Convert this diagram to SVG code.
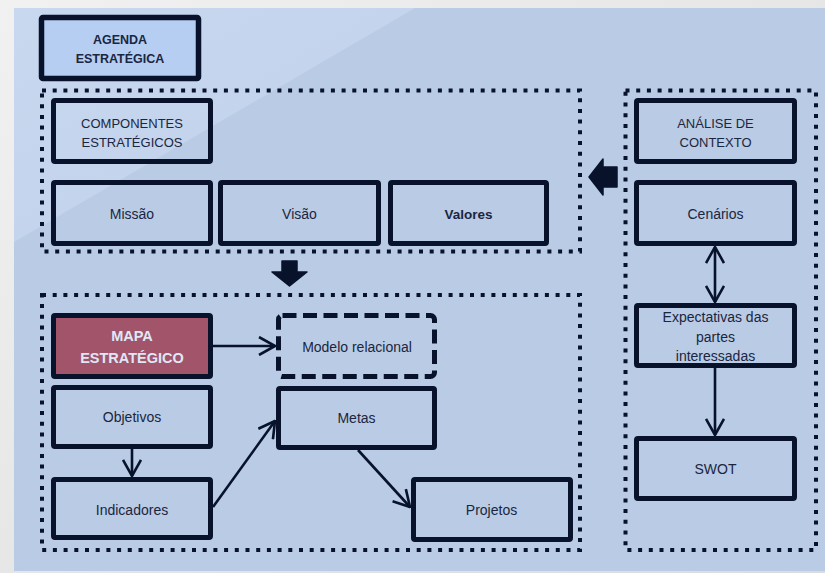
<svg xmlns="http://www.w3.org/2000/svg" width="825" height="573" viewBox="0 0 825 573">
  <defs>
    <linearGradient id="pageBg" x1="0" y1="0" x2="1" y2="1">
      <stop offset="0" stop-color="#f1f1f1"/>
      <stop offset="1" stop-color="#dcdcdc"/>
    </linearGradient>
    <linearGradient id="sheen" x1="0" y1="0" x2="1" y2="1">
      <stop offset="0" stop-color="#c8d8ef"/>
      <stop offset="1" stop-color="#bfd0ea"/>
    </linearGradient>
    <marker id="chevron" viewBox="0 0 18 20" refX="17" refY="10" markerWidth="18" markerHeight="20" markerUnits="userSpaceOnUse" orient="auto-start-reverse">
      <path d="M1,1 L17,10 L1,19" fill="none" stroke="#08132b" stroke-width="2.6" stroke-linejoin="miter"/>
    </marker>
    <style>
      .box { fill: none; stroke: #08132b; stroke-width: 5; }
      .dashed { fill: none; stroke: #08132b; stroke-width: 5; stroke-dasharray: 14 6.5; }
      .area { fill: none; stroke: #08132b; stroke-width: 4; stroke-dasharray: 4 6.7; }
      .txt { font-family: "Liberation Sans", Arial, sans-serif; font-size: 14px; fill: #1b2640; text-anchor: middle; }
      .caps { font-size: 13px; }
      .bold { font-weight: bold; }
      .conn { fill: none; stroke: #08132b; stroke-width: 2.6; marker-end: url(#chevron); }
      .block { fill: #08132b; stroke: #08132b; stroke-width: 1.5; stroke-linejoin: round; }
    </style>
  </defs>

  <!-- page and panel -->
  <rect x="0" y="0" width="825" height="573" fill="url(#pageBg)"/>
  <rect x="14" y="8" width="811" height="563" fill="#b9cbe5"/>
  <polygon points="14,8 415,8 14,242" fill="url(#sheen)"/>

  <!-- title -->
  <g id="agenda">
    <rect x="41.5" y="17.5" width="157" height="61" rx="1.5" fill="#b5cef2" stroke="#08132b" stroke-width="5.5"/>
    <text class="txt bold" x="120" y="43.5" style="font-size:12.5px">AGENDA</text>
    <text class="txt bold" x="120" y="62.5" style="font-size:12.5px">ESTRATÉGICA</text>
  </g>

  <!-- grouping areas -->
  <g id="areas">
    <rect id="area-componentes" class="area" x="42" y="90.5" width="538" height="161"/>
    <rect id="area-mapa" class="area" x="42" y="295" width="538" height="255"/>
    <rect id="area-contexto" class="area" x="625.5" y="90.5" width="190.5" height="459.5"/>
  </g>

  <!-- strategic components -->
  <g id="componentes">
    <rect class="box" x="53.5" y="100.5" width="157" height="61" rx="1.5"/>
    <text class="txt caps" x="132" y="127.5">COMPONENTES</text>
    <text class="txt caps" x="132" y="146.5">ESTRATÉGICOS</text>
  </g>
  <g id="missao">
    <rect class="box" x="53.5" y="182.5" width="157" height="61" rx="1.5"/>
    <text class="txt" x="132" y="219">Missão</text>
  </g>
  <g id="visao">
    <rect class="box" x="220.5" y="182.5" width="158" height="61" rx="1.5"/>
    <text class="txt" x="299.5" y="219">Visão</text>
  </g>
  <g id="valores">
    <rect class="box" x="390.5" y="182.5" width="156" height="61" rx="1.5"/>
    <text class="txt bold" x="468.5" y="219" style="font-size:13.5px">Valores</text>
  </g>

  <!-- context analysis -->
  <g id="analise">
    <rect class="box" x="636.5" y="100.5" width="158" height="61" rx="1.5"/>
    <text class="txt caps" x="715.5" y="127.5">ANÁLISE DE</text>
    <text class="txt caps" x="715.5" y="146.5">CONTEXTO</text>
  </g>
  <g id="cenarios">
    <rect class="box" x="636.5" y="182.5" width="158" height="61" rx="1.5"/>
    <text class="txt" x="715.5" y="219">Cenários</text>
  </g>
  <g id="expectativas">
    <rect class="box" x="636.5" y="305.5" width="158" height="60" rx="1.5"/>
    <text class="txt" x="715.5" y="322">Expectativas das</text>
    <text class="txt" x="715.5" y="342">partes</text>
    <text class="txt" x="715.5" y="361">interessadas</text>
  </g>
  <g id="swot">
    <rect class="box" x="636.5" y="438.5" width="158" height="60" rx="1.5"/>
    <text class="txt" x="715.5" y="474">SWOT</text>
  </g>

  <!-- strategic map -->
  <g id="mapa">
    <rect x="53.5" y="315.5" width="157" height="61" rx="1.5" fill="#a1546a" stroke="#08132b" stroke-width="5"/>
    <text class="txt bold" x="132" y="341" style="font-size:14.5px;fill:#dfe8f7">MAPA</text>
    <text class="txt bold" x="132" y="363" style="font-size:14.5px;fill:#dfe8f7">ESTRATÉGICO</text>
  </g>
  <g id="modelo">
    <rect class="dashed" x="278.5" y="315.5" width="156" height="61" rx="4"/>
    <text class="txt" x="357" y="352">Modelo relacional</text>
  </g>
  <g id="objetivos">
    <rect class="box" x="53.5" y="387.5" width="157" height="59" rx="1.5"/>
    <text class="txt" x="132" y="422">Objetivos</text>
  </g>
  <g id="metas">
    <rect class="box" x="278.5" y="388.5" width="156" height="59" rx="1.5"/>
    <text class="txt" x="356.5" y="423">Metas</text>
  </g>
  <g id="indicadores">
    <rect class="box" x="53.5" y="479.5" width="157" height="58" rx="1.5"/>
    <text class="txt" x="132" y="515">Indicadores</text>
  </g>
  <g id="projetos">
    <rect class="box" x="413.5" y="479.5" width="157" height="60" rx="1.5"/>
    <text class="txt" x="491.5" y="515">Projetos</text>
  </g>

  <!-- connectors -->
  <g id="connectors">
    <line class="conn" x1="213" y1="346" x2="275" y2="346"/>
    <line class="conn" x1="132" y1="449" x2="132" y2="476"/>
    <line class="conn" x1="213" y1="507" x2="275" y2="421"/>
    <line class="conn" x1="358" y1="450" x2="410" y2="507"/>
    <line class="conn" x1="715" y1="247" x2="715" y2="302" style="marker-start:url(#chevron)"/>
    <line class="conn" x1="715" y1="368" x2="715" y2="435"/>
    <path class="block" d="M282,261 H297 V272 H307 L289.5,286 L272,272 H282 Z"/>
    <path class="block" d="M617,167 V187 H603 V195 L589,177 L603,159 V167 Z"/>
  </g>
</svg>
